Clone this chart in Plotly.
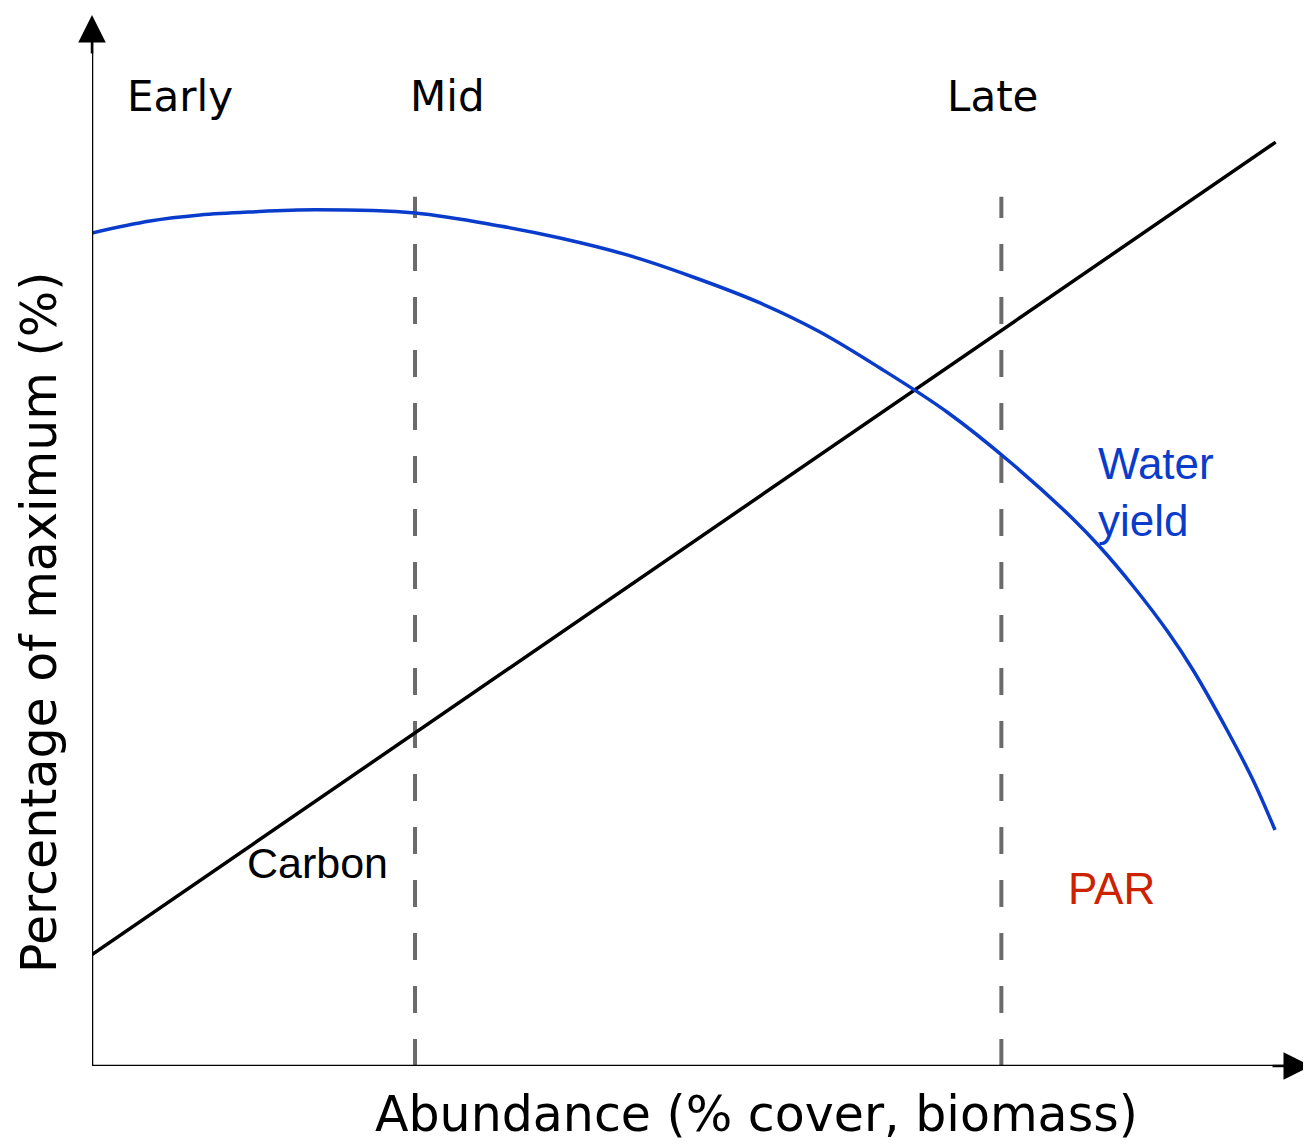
import plotly.graph_objects as go

# ---- data (x: abundance 0-100, y: percentage of maximum 0-100) ----
water_x = [0, 4.76, 8.86, 12.96, 18.29, 26.50, 33.47, 38.39, 43.89, 49.30, 54.80, 59.72,
           64.64, 70.14, 75.31, 80.48, 82.69, 85.40, 88.27, 90.32, 93.11, 95.24, 97.05]
water_y = [79.26, 80.40, 80.97, 81.26, 81.47, 81.16, 79.92, 78.78, 77.17, 75.07, 72.60, 69.84,
           66.41, 62.23, 57.47, 52.05, 49.38, 45.67, 41.29, 37.68, 31.97, 27.21, 22.45]
carbon_x = [0, 97.1]
carbon_y = [10.6, 87.9]
stage_names = ["Early", "Mid", "Late"]
stage_label_x = [7.2, 29.2, 73.9]
stage_line_x = [26.5, 74.6]
stage_line_top = 82.7

GOTHIC = "DejaVu Sans"
ARIAL = "Liberation Sans"

fig = go.Figure()

# stage dashed lines (drawn bottom-up so the dash pattern starts at the axis)
for sx in stage_line_x:
    fig.add_trace(go.Scatter(x=[sx, sx], y=[0, stage_line_top], mode="lines",
                             line=dict(color="#6b6b6b", width=4, dash="27px,26px"),
                             hoverinfo="skip", showlegend=False))

fig.add_trace(go.Scatter(x=carbon_x, y=carbon_y, mode="lines",
                         line=dict(color="black", width=3.5), showlegend=False))
fig.add_trace(go.Scatter(x=water_x, y=water_y, mode="lines",
                         line=dict(color="#0a3ccc", width=3.5, shape="spline", smoothing=1.0),
                         showlegend=False))

# axes lines
fig.add_shape(type="line", xref="x", yref="y", x0=0, y0=0, x1=0, y1=99, line=dict(color="black", width=2.5))
fig.add_shape(type="line", xref="x", yref="y", x0=0, y0=0, x1=99, y1=0, line=dict(color="black", width=2.5))

annotations = []
# arrowheads
annotations.append(dict(x=0, y=100, xref="x", yref="y", ax=0, ay=40, showarrow=True,
                        arrowhead=2, arrowsize=2.2, arrowwidth=2.5, arrowcolor="black", text=""))
annotations.append(dict(x=100, y=0, xref="x", yref="y", ax=-40, ay=0, showarrow=True,
                        arrowhead=2, arrowsize=2.2, arrowwidth=2.5, arrowcolor="black", text=""))

for name, lx in zip(stage_names, stage_label_x):
    annotations.append(dict(x=lx, y=92.2, xref="x", yref="y", text=name, showarrow=False,
                            font=dict(family=GOTHIC, size=42, color="black"),
                            xanchor="center", yanchor="middle"))

annotations.append(dict(x=18.5, y=19.3, xref="x", yref="y", text="Carbon", showarrow=False,
                        font=dict(family=ARIAL, size=43, color="black"), xanchor="center", yanchor="middle"))
annotations.append(dict(x=82.4, y=54.6, xref="x", yref="y", text="Water<br>yield", showarrow=False,
                        align="left", font=dict(family=ARIAL, size=44, color="#0a3ccc"),
                        xanchor="left", yanchor="middle"))
annotations.append(dict(x=79.9, y=16.9, xref="x", yref="y", text="PAR", showarrow=False,
                        font=dict(family=ARIAL, size=44, color="#cc2200"), xanchor="left", yanchor="middle"))

# axis titles
annotations.append(dict(x=0.5455, y=-0.0466, xref="paper", yref="paper",
                        text="Abundance (% cover, biomass)", showarrow=False,
                        font=dict(family=GOTHIC, size=49, color="black"), xanchor="center", yanchor="middle"))
annotations.append(dict(x=-0.0427, y=0.4225, xref="paper", yref="paper",
                        text="Percentage of maximum (%)", showarrow=False, textangle=-90,
                        font=dict(family=GOTHIC, size=49, color="black"), xanchor="center", yanchor="middle"))

fig.update_layout(
    width=1303, height=1137,
    margin=dict(l=84, r=0, t=7, b=79),
    paper_bgcolor="white", plot_bgcolor="white",
    xaxis=dict(range=[0, 100], visible=False, fixedrange=True),
    yaxis=dict(range=[0, 100], visible=False, fixedrange=True),
    annotations=annotations,
    showlegend=False,
)

fig.write_html("out.html")
